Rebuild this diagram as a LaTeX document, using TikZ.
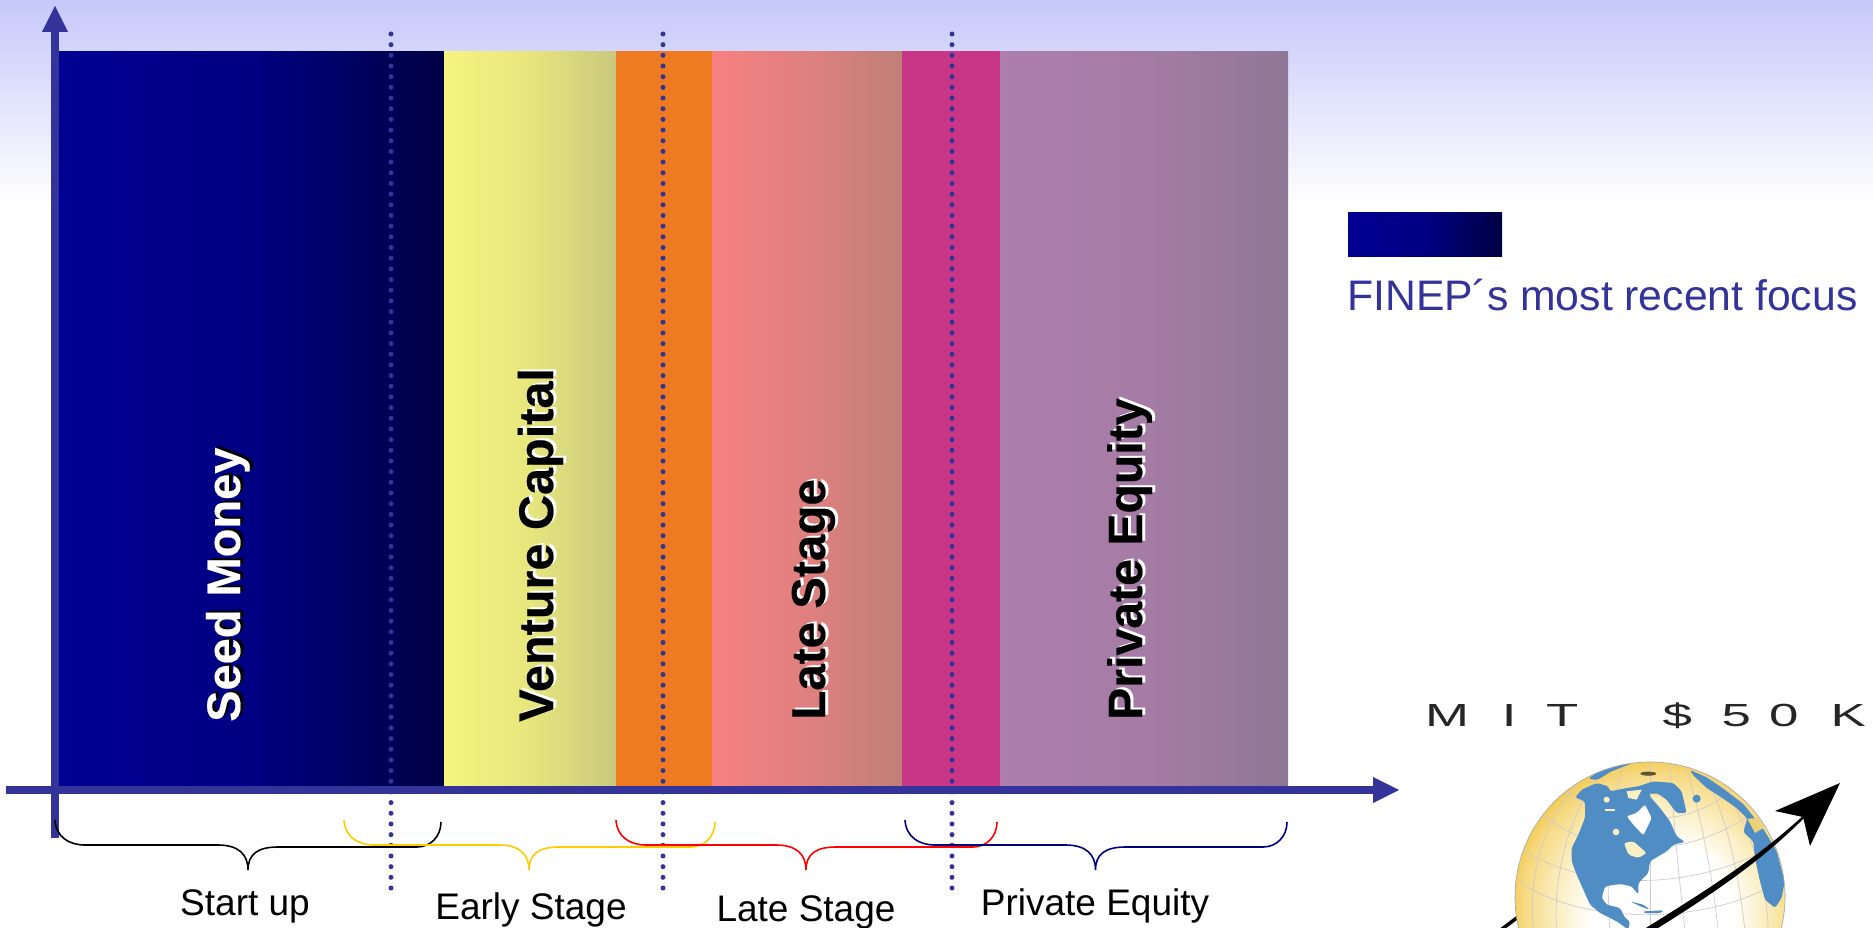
\documentclass[tikz,border=0pt]{standalone}
\usepackage{fontspec}
\usepackage{graphicx}
\setmainfont{Liberation Sans}
\newfontfamily\vfont[BoldFeatures={FakeBold=0.35}]{Liberation Sans}
\usetikzlibrary{shadings}
\definecolor{axisblue}{HTML}{333399}
\definecolor{bgtop}{HTML}{C6C8FA}
\definecolor{seedL}{HTML}{000092}\definecolor{seedM}{HTML}{000082}\definecolor{seedR}{HTML}{000044}
\definecolor{vcL}{HTML}{F5F580}\definecolor{vcM}{HTML}{E6E67E}\definecolor{vcR}{HTML}{C9C87E}
\definecolor{orangeband}{HTML}{EE7B22}
\definecolor{ltL}{HTML}{F88080}\definecolor{ltM}{HTML}{DF8080}\definecolor{ltR}{HTML}{C07F78}
\definecolor{pinkband}{HTML}{C73785}
\definecolor{peL}{HTML}{AE7EAE}\definecolor{peM}{HTML}{A57CA5}\definecolor{peR}{HTML}{8E7896}
\definecolor{braceyellow}{HTML}{FFCC00}
\definecolor{bracenavy}{HTML}{000080}
\definecolor{landblue}{HTML}{4F8DC4}
\definecolor{gridpink}{HTML}{D3CAC8}
\definecolor{globeA}{HTML}{FBEFC4}
\definecolor{globeB}{HTML}{F6D982}
\definecolor{globeC}{HTML}{F2C94C}
\definecolor{landsand}{HTML}{EBD27A}
\pgfdeclareradialshading{globeshade}{\pgfpoint{3bp}{-4bp}}{
  color(0bp)=(white); color(13bp)=(white); color(19bp)=(globeA);
  color(25bp)=(globeB); color(28bp)=(globeC); color(50bp)=(globeC)}
\tikzset{
  band/.style={anchor=north west,inner sep=0pt,outer sep=0pt,minimum height=735.5pt},
  flatband/.style={anchor=north west,inner sep=0pt,outer sep=0pt,minimum height=736.5pt},
  axisline/.style={draw=none,fill=axisblue},
  vlabel/.style={rotate=90,anchor=base west,inner sep=0pt,font=\vfont\fontsize{#1}{50}\selectfont\bfseries},
  hlabel/.style={inner sep=0pt,anchor=base,font=\fontsize{37}{40}\selectfont},
  dotline/.style={axisblue,line width=5pt,line cap=round,dash pattern=on 0pt off 10.675pt},
  bracecurve/.style={line width=1.6pt},
  gridline/.style={draw=gridpink,line width=.7pt},
  land/.style={fill=landblue,draw=none,rounded corners=2.5pt},
}
\newcommand{\mybrace}[2]{%
  \draw[bracecurve,#2] (#1l) .. controls +(1,17) and +(-16,0) .. ([xshift=30pt,yshift=-25pt]#1l)
    -- ([xshift=-30pt,yshift=25pt]#1t) .. controls +(20,0) and +(0,-16) .. (#1t)
    .. controls +(0,-16) and +(-20,0) .. ([xshift=30pt,yshift=23pt]#1t)
    -- ([xshift=-24pt,yshift=-25pt]#1r) .. controls +(14,0) and +(0,14) .. (#1r);}
\begin{document}
\begin{tikzpicture}[x=1pt,y=-1pt]
\useasboundingbox (0,0) rectangle (1873,928);
\clip (0,0) rectangle (1873,928);
\fill[white] (0,0) rectangle (1873,928);
\shade[top color=bgtop,bottom color=white] (0,0) rectangle (1873,205);

% bands
\node[band,minimum width=385pt,left color=seedL,right color=seedR,middle color=seedM] (seed) at (59,52) {};
\node[band,minimum width=172pt,left color=vcL,right color=vcR,middle color=vcM] (vc) at (444,52) {};
\node[flatband,minimum width=96pt,fill=orangeband] (orange) at (616,51) {};
\node[band,minimum width=190pt,left color=ltL,right color=ltR,middle color=ltM] (late) at (712,52) {};
\node[flatband,minimum width=98pt,fill=pinkband] (pink) at (902,51) {};
\node[band,minimum width=288pt,left color=peL,right color=peR,middle color=peM] (pe) at (1000,52) {};

% vertical labels with offset shadow
\node[vlabel=47,black] (seedS) at (243,720) {Seed Money};
\node[vlabel=47,white] (seedT) at (240,722) {Seed Money};
\node[vlabel=48.6,white] (vcS) at (556,720) {Venture Capital};
\node[vlabel=48.6,black] (vcT) at (553,722) {Venture Capital};
\node[vlabel=47.6,white] (lateS) at (828,718) {Late Stage};
\node[vlabel=47.6,black] (lateT) at (825,720) {Late Stage};
\node[vlabel=48.2,white] (peS) at (1145,718) {Private Equity};
\node[vlabel=48.2,black] (peT) at (1142,720) {Private Equity};

% axes
\coordinate (yfoot) at (55,838);
\coordinate (ybase) at (55,32);
\coordinate (ytip) at (55,6);
\coordinate (xfoot) at (6,790);
\coordinate (xbase) at (1373,790);
\coordinate (xtip) at (1399,790);
\fill[axisline] ([xshift=-4pt]yfoot) rectangle ([xshift=4pt]ybase);
\fill[axisline] ([xshift=-13pt]ybase) -- (ytip) -- ([xshift=13pt]ybase) -- cycle;
\fill[axisline] ([yshift=-4pt]xfoot) rectangle ([yshift=4pt]xbase);
\fill[axisline] ([yshift=-13pt]xbase) -- (xtip) -- ([yshift=13pt]xbase) -- cycle;

% dotted dividers
\foreach \x/\n in {391/a,663/b,952/c}{
  \coordinate (dot\n top) at (\x,34);
  \coordinate (dot\n bot) at (\x,889);
  \draw[dotline] (dot\n top) -- (dot\n bot);
}

% braces
\coordinate (bkl) at (55,820); \coordinate (bkt) at (248,870); \coordinate (bkr) at (441,822);
\coordinate (yel) at (344,820); \coordinate (yet) at (529,870); \coordinate (yer) at (715,822);
\coordinate (rdl) at (616,820); \coordinate (rdt) at (806,870); \coordinate (rdr) at (997,822);
\coordinate (nvl) at (905,820); \coordinate (nvt) at (1095.5,870); \coordinate (nvr) at (1287,822);
\mybrace{bk}{black}
\mybrace{ye}{braceyellow}
\mybrace{rd}{red}
\mybrace{nv}{bracenavy}

% labels
\node[hlabel] (lstart) at (245,915) {Start up};
\node[hlabel] (learly) at (531,919.5) {Early Stage};
\node[hlabel] (llate) at (806,921.5) {Late Stage};
\node[hlabel] (lpe) at (1095,915) {Private Equity};

% legend
\node[anchor=north west,inner sep=0pt,minimum width=154pt,minimum height=43.5pt,left color=seedL,right color=seedR,middle color=seedM] (legend) at (1348,212.5) {};
\node[anchor=base west,inner sep=0pt,text=axisblue,font=\fontsize{42.7}{45}\selectfont] (legendtext) at (1347,310) {FINEP´s most recent focus};

% MIT $50K logo text
\node[anchor=base west,inner sep=0pt,text=black!85,font=\fontsize{32}{34}\selectfont] (mit) at (1425,726)
  {\scalebox{1.65}[1]{M\hspace{19.8pt}I\hspace{18pt}T\hspace{51pt}\$\hspace{18pt}5\hspace{11pt}0\hspace{19.4pt}K}};

% arrow behind the globe
\coordinate (arrowA) at (1490,938);
\coordinate (arrowB) at (1530,908);
\draw[line width=3.5pt,black] (arrowA) -- (arrowB);

% globe
\coordinate (gc) at (1650,897);
\shade[shading=globeshade] (gc) circle (135);
\begin{scope}
\clip (gc) circle (135);
\begin{scope}[shift={(1510,758)},x=.3333pt,y=-.3333pt]
  % parallels and meridians
  \draw[gridline] (20,260) .. controls (200,400) and (560,410) .. (810,250);
  \draw[gridline] (30,370) .. controls (200,500) and (600,510) .. (825,360);
  \draw[gridline] (100,170) .. controls (250,300) and (520,310) .. (720,170);
  \draw[gridline] (170,100) .. controls (300,200) and (520,220) .. (660,100);
  \draw[gridline] (420,20) -- (420,520);
  \draw[gridline] (340,20) .. controls (290,200) and (290,380) .. (300,520);
  \draw[gridline] (270,40) .. controls (160,200) and (130,380) .. (140,520);
  \draw[gridline] (200,80) .. controls (70,230) and (60,400) .. (70,520);
  \draw[gridline] (480,20) .. controls (490,200) and (510,380) .. (525,520);
  \draw[gridline] (530,30) .. controls (580,200) and (610,380) .. (625,520);
  \draw[gridline] (590,60) .. controls (660,200) and (690,380) .. (705,520);
  \draw[gridline] (640,90) .. controls (730,220) and (770,380) .. (775,520);
  % land
  \fill[land] (215,95) -- (260,75) -- (295,85) -- (300,100) -- (350,90) -- (385,85) -- (430,70) -- (490,75) -- (515,100) -- (530,165) -- (500,165) -- (470,125) -- (440,105) -- (415,110) -- (450,150) -- (480,190) -- (500,235) -- (525,252) -- (490,260) -- (470,280) -- (420,310) -- (415,345) -- (385,375) -- (385,410) -- (365,385) -- (330,378) -- (285,385) -- (275,420) -- (290,440) -- (330,450) -- (345,480) -- (360,490) -- (355,515) -- (320,490) -- (270,465) -- (240,440) -- (220,395) -- (200,350) -- (185,310) -- (185,270) -- (205,230) -- (225,180) -- (225,130) -- (195,118) -- cycle;
  \fill[white,rounded corners=2pt] (350,175) -- (380,165) -- (405,140) -- (425,180) -- (400,232) -- (370,200) -- cycle;
  \fill[globeA,rounded corners=2pt] (342,255) -- (370,250) -- (410,285) -- (385,300) -- (355,290) -- cycle;
  \fill[globeA] (420,105) -- (450,125) -- (490,165) -- (455,150) -- cycle;
  \fill[globeA] (290,125) circle (9);
  \fill[globeA] (285,152) rectangle (315,160);
  \fill[globeA] (318,222) circle (10);
  \fill[globeA] (350,100) -- (395,95) -- (380,125) -- (355,120) -- cycle;
  \fill[land] (235,62) -- (280,30) -- (345,14) -- (370,14) -- (300,42) -- (262,66) -- cycle;
  \fill[land] (540,36) -- (590,58) -- (640,92) -- (700,138) -- (760,213) -- (800,280) -- (824,370) -- (815,420) -- (795,450) -- (765,425) -- (750,370) -- (735,300) -- (730,250) -- (700,222) -- (712,182) -- (680,150) -- (640,122) -- (590,90) -- (550,52) -- cycle;
  \fill[landsand] (712,182) -- (745,180) -- (760,210) -- (735,225) -- cycle;
  \fill[land] (560,122) circle (12);
  \fill[black!60!landsand] (415,47) ellipse (24 and 6);
  \fill[land] (360,430) -- (400,440) -- (420,455) -- (395,447) -- cycle;
  \fill[land] (400,460) -- (460,457) -- (455,465) -- (405,466) -- cycle;
\end{scope}
\end{scope}
\draw[black!35,line width=.6pt] (gc) circle (135);

% swoosh in front of the globe, and head
\coordinate (swooshA) at (1630,938);
\coordinate (headTip) at (1840,783);
\coordinate (headB1) at (1775,811);
\coordinate (headB2) at (1810,846);
\coordinate (headN) at (1803,817);
\fill[black] (swooshA) .. controls (1690,900) and (1750,865) .. (1805,814) -- (1806,816) .. controls (1755,868) and (1695,905) .. (1634,943) -- cycle;
\fill[black] (headTip) -- (headB1) -- (headN) -- (headB2) -- cycle;
\end{tikzpicture}
\end{document}
